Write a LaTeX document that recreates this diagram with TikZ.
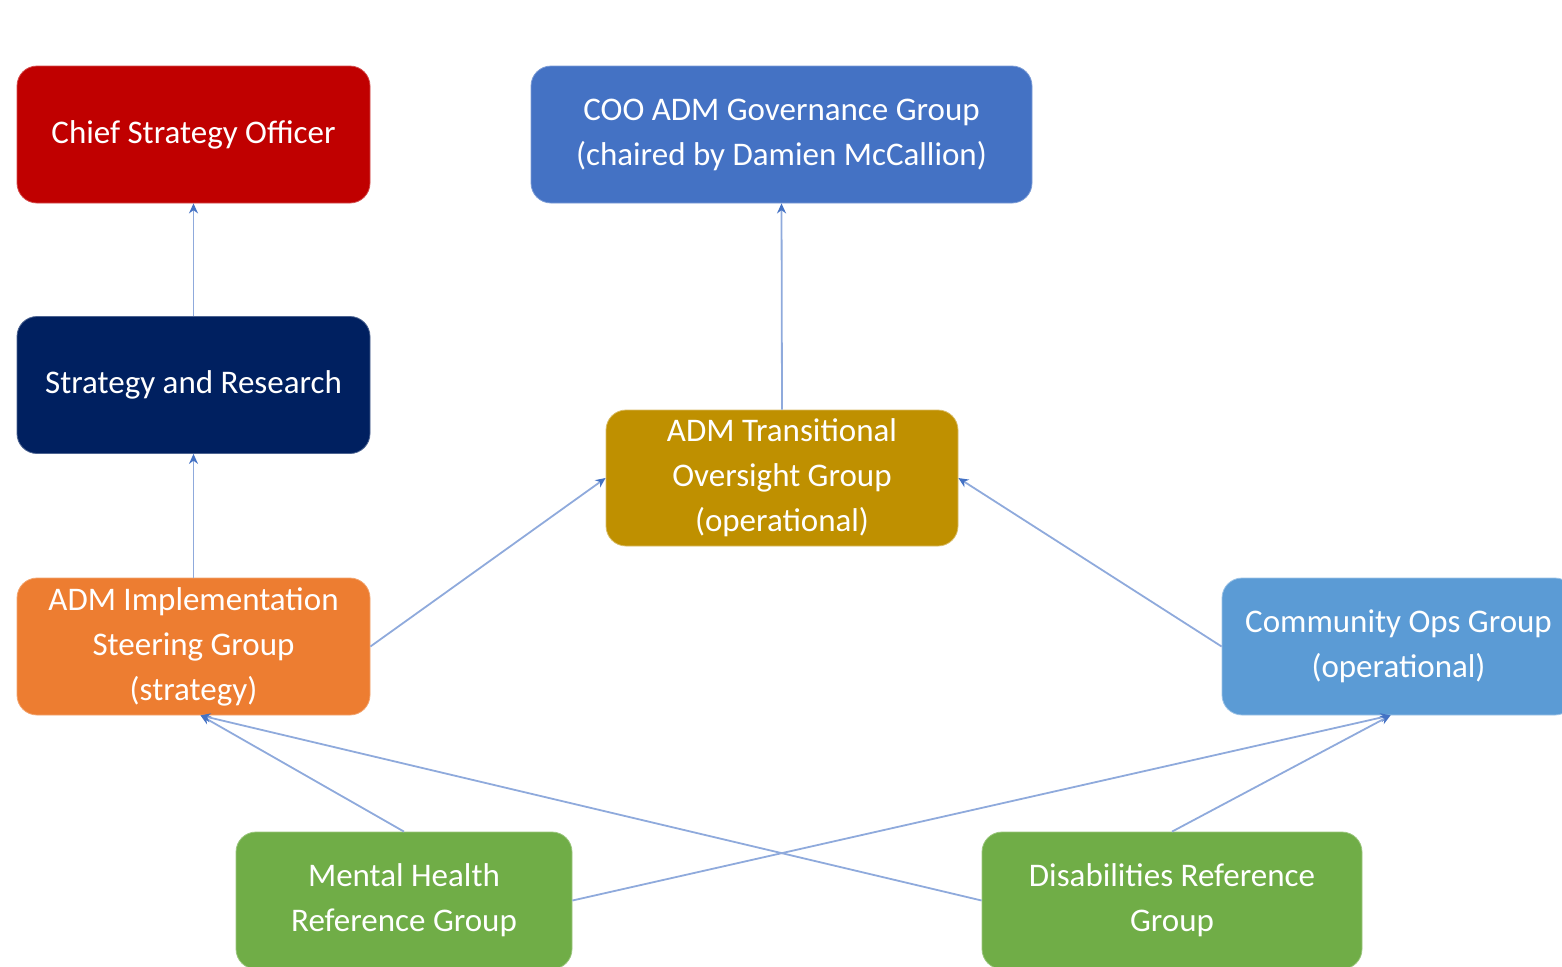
\documentclass[tikz,border=0pt]{standalone}
\usepackage{fontspec}
\setmainfont{Carlito}
\usetikzlibrary{arrows.meta,calc}
\definecolor{cred}{HTML}{C00000}
\definecolor{cblue}{HTML}{4472C4}
\definecolor{cnavy}{HTML}{002060}
\definecolor{cgold}{HTML}{BF9000}
\definecolor{corange}{HTML}{ED7D31}
\definecolor{clight}{HTML}{5B9BD5}
\definecolor{cgreen}{HTML}{70AD47}
\definecolor{cline}{HTML}{8FAADC}
\tikzset{
  box/.style={rounded corners=10pt, inner sep=0pt, align=center, text=white,
    font=\fontsize{16.5pt}{22.5pt}\selectfont, minimum width=176.5pt, minimum height=68.5pt},
  conn/.style={draw=cline, line width=0.9pt,
    -{Stealth[length=5pt,width=4.5pt,color=cblue]}}
}
\begin{document}
\begin{tikzpicture}[x=0.5pt,y=-0.5pt]
\useasboundingbox (0,0) rectangle (1562,966);
\clip (0,0) rectangle (1562,966);
\node[box, fill=cred, draw=cred!70] (chief) at (193.5,134.5) {Chief Strategy Officer};
\node[box, fill=cblue, draw=cblue!70, minimum width=250.5pt] (coo) at (781.5,134.5) {COO ADM Governance Group\\(chaired by Damien McCallion)};
\node[box, fill=cnavy, draw=cnavy!70] (sr) at (193.5,385) {Strategy and Research};
\node[box, fill=cgold, draw=cgold!60, minimum width=176pt, minimum height=68pt] (trans) at (782,478) {ADM Transitional\\Oversight Group\\(operational)};
\node[box, fill=corange, draw=corange!70] (impl) at (193.5,646.5) {ADM Implementation\\Steering Group\\(strategy)};
\node[box, fill=clight, draw=clight!60] (com) at (1398.5,646.5) {Community Ops Group\\(operational)};
\node[box, fill=cgreen, draw=cgreen!70, minimum width=168pt] (mh) at (404,900.5) {Mental Health\\Reference Group};
\node[box, fill=cgreen, draw=cgreen!70, minimum width=190pt] (dis) at (1172,900.5) {Disabilities Reference\\Group};

\draw[conn] (sr.north) -- (chief.south);
\draw[conn] (impl.north) -- (sr.south);
\draw[conn] (trans.north) -- (coo.south);
\draw[conn] (impl.east) -- (trans.west);
\draw[conn] (com.west) -- (trans.east);
\draw[conn] (mh.north) -- ($(impl.south)+(7,0)$);
\draw[conn] (dis.west) -- ($(impl.south)+(7,0)$);
\draw[conn] (mh.east) -- ($(com.south)+(-8,0)$);
\draw[conn] (dis.north) -- ($(com.south)+(-8,0)$);
\end{tikzpicture}
\end{document}
